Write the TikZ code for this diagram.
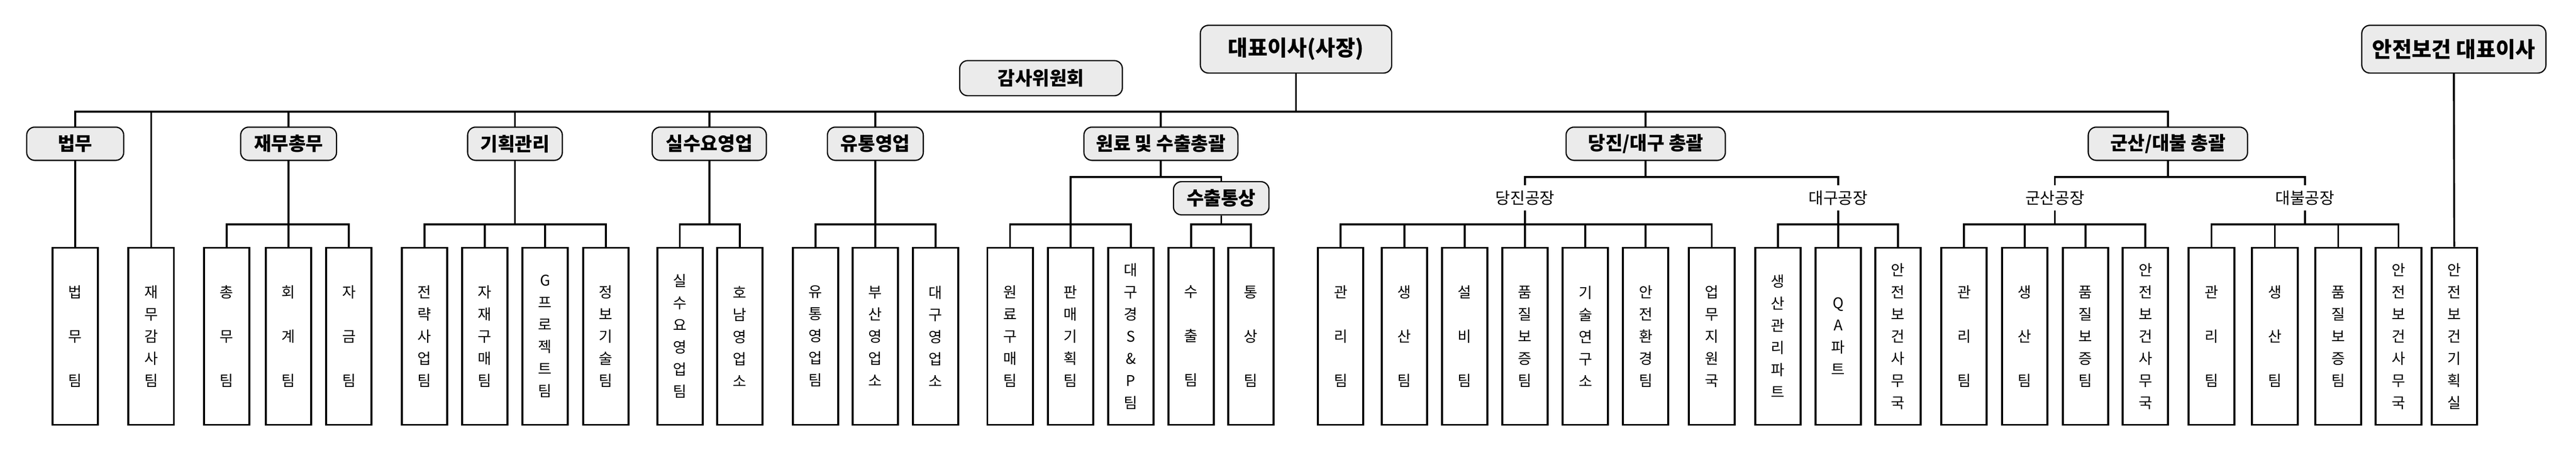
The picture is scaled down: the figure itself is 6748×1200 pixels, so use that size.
\documentclass[tikz,border=0pt]{standalone}
\usepackage{fontspec}
\setmainfont{Noto Sans CJK KR}
\begin{document}
\begin{tikzpicture}[x=0.01cm,y=-0.01cm,
  hdr/.style={draw=black,line width=0.9pt,fill=black!8,rounded corners=6pt,minimum height=0.87cm,inner sep=0pt,font=\fontsize{14}{16}\bfseries\selectfont},
  top/.style={hdr,minimum height=1.25cm,font=\fontsize{16}{18}\bfseries\selectfont},
  team/.style={draw=black,line width=1.5pt,fill=white,minimum width=1.19cm,minimum height=4.64cm,inner sep=0pt,align=center,font=\fontsize{11}{16.5}\selectfont},
  team3/.style={team,font=\fontsize{11}{33}\selectfont},
  lab/.style={minimum height=0.65cm,inner sep=0pt,font=\fontsize{12}{14}\selectfont},
  ln/.style={line width=1.4pt}]
\useasboundingbox (0,0) rectangle (6748,1200);
\coordinate (yM) at (0,293);
\coordinate (yS) at (0,464);
\coordinate (yT) at (0,588);

% top level
\node[top,minimum width=5.01cm] (ceo) at (3395,129) {대표이사(사장)};
\node[hdr,minimum width=4.26cm,minimum height=0.92cm] (audit) at (2727,205) {감사위원회};
\node[top,minimum width=4.82cm] (safe) at (6428,129) {안전보건 대표이사};

% division headers
\node[hdr,minimum width=2.54cm] (h1) at (197,377) {법무};
\node[hdr,minimum width=2.51cm] (h2) at (756,377) {재무총무};
\node[hdr,minimum width=2.48cm] (h3) at (1349,377) {기획관리};
\node[hdr,minimum width=2.99cm] (h4) at (1858,377) {실수요영업};
\node[hdr,minimum width=2.51cm] (h5) at (2293,377) {유통영업};
\node[hdr,minimum width=4.03cm] (h6) at (3041,377) {원료 및 수출총괄};
\node[hdr,minimum width=2.50cm] (h7) at (3199,520) {수출통상};
\node[hdr,minimum width=4.17cm] (h8) at (4311,377) {당진/대구 총괄};
\node[hdr,minimum width=4.17cm] (h9) at (5679,377) {군산/대불 총괄};

% factory labels
\node[lab] (l1) at (3995,519) {당진공장};
\node[lab] (l2) at (4815,519) {대구공장};
\node[lab] (l3) at (5383,519) {군산공장};
\node[lab] (l4) at (6038,519) {대불공장};

% teams
\node[team3] (a1) at (197,882) {법\\무\\팀};
\node[team] (a2) at (396,882) {재\\무\\감\\사\\팀};
\node[team3] (b1) at (594,882) {총\\무\\팀};
\node[team3] (b2) at (756,882) {회\\계\\팀};
\node[team3] (b3) at (914,882) {자\\금\\팀};
\node[team] (c1) at (1112,882) {전\\략\\사\\업\\팀};
\node[team] (c2) at (1270,882) {자\\재\\구\\매\\팀};
\node[team] (c3) at (1428,882) {G\\프\\로\\젝\\트\\팀};
\node[team] (c4) at (1587,882) {정\\보\\기\\술\\팀};
\node[team] (d1) at (1781,882) {실\\수\\요\\영\\업\\팀};
\node[team] (d2) at (1938,882) {호\\남\\영\\업\\소};
\node[team] (e1) at (2136,882) {유\\통\\영\\업\\팀};
\node[team] (e2) at (2293,882) {부\\산\\영\\업\\소};
\node[team] (e3) at (2451,882) {대\\구\\영\\업\\소};
\node[team] (f1) at (2646,882) {원\\료\\구\\매\\팀};
\node[team] (f2) at (2804,882) {판\\매\\기\\획\\팀};
\node[team] (f3) at (2962,882) {대\\구\\경\\S\\\&\\P\\팀};
\node[team3] (g1) at (3120,882) {수\\출\\팀};
\node[team3] (g2) at (3277,882) {통\\상\\팀};
\node[team3] (i1) at (3512,882) {관\\리\\팀};
\node[team3] (i2) at (3679,882) {생\\산\\팀};
\node[team3] (i3) at (3837,882) {설\\비\\팀};
\node[team] (i4) at (3995,882) {품\\질\\보\\증\\팀};
\node[team] (i5) at (4153,882) {기\\술\\연\\구\\소};
\node[team] (i6) at (4311,882) {안\\전\\환\\경\\팀};
\node[team] (i7) at (4484,882) {업\\무\\지\\원\\국};
\node[team] (j1) at (4657,882) {생\\산\\관\\리\\파\\트};
\node[team] (j2) at (4815,882) {Q\\A\\파\\트};
\node[team] (j3) at (4972,882) {안\\전\\보\\건\\사\\무\\국};
\node[team3] (k1) at (5145,882) {관\\리\\팀};
\node[team3] (k2) at (5304,882) {생\\산\\팀};
\node[team] (k3) at (5463,882) {품\\질\\보\\증\\팀};
\node[team] (k4) at (5620,882) {안\\전\\보\\건\\사\\무\\국};
\node[team3] (m1) at (5793,882) {관\\리\\팀};
\node[team3] (m2) at (5959,882) {생\\산\\팀};
\node[team] (m3) at (6125,882) {품\\질\\보\\증\\팀};
\node[team] (m4) at (6283,882) {안\\전\\보\\건\\사\\무\\국};
\node[team] (s1) at (6429,882) {안\\전\\보\\건\\기\\획\\실};

\begin{scope}[ln]
% main bus
\draw (h1.north) -- (h1.north|-yM) -- (h9.north|-yM) -- (h9.north);
\foreach \n in {h2,h3,h4,h5,h6,h8} \draw (\n.north) -- (\n.north|-yM);
\draw (a2.north) -- (a2.north|-yM);
\draw (ceo.south) -- (ceo.south|-yM);
\draw (safe.south) -- (s1.north);
% 법무
\draw (h1.south) -- (a1.north);
% 재무총무
\draw (h2.south) -- (b2.north);
\draw (b1.north) -- (b1.north|-yT) -- (b3.north|-yT) -- (b3.north);
% 기획관리
\draw (h3.south) -- (h3.south|-yT);
\draw (c1.north) -- (c1.north|-yT) -- (c4.north|-yT) -- (c4.north);
\foreach \n in {c2,c3} \draw (\n.north) -- (\n.north|-yT);
% 실수요
\draw (h4.south) -- (h4.south|-yT);
\draw (d1.north) -- (d1.north|-yT) -- (d2.north|-yT) -- (d2.north);
% 유통
\draw (h5.south) -- (e2.north);
\draw (e1.north) -- (e1.north|-yT) -- (e3.north|-yT) -- (e3.north);
% 원료 및 수출
\draw (h6.south) -- (h6.south|-yS);
\draw (f2.north) -- (f2.north|-yS) -- (h7.north|-yS) -- (h7.north);
\draw (f1.north) -- (f1.north|-yT) -- (f3.north|-yT) -- (f3.north);
\draw (h7.south) -- (h7.south|-yT);
\draw (g1.north) -- (g1.north|-yT) -- (g2.north|-yT) -- (g2.north);
% 당진/대구
\draw (h8.south) -- (h8.south|-yS);
\draw (l1.north) -- (l1.north|-yS) -- (l2.north|-yS) -- (l2.north);
\draw (l1.south) -- (i4.north);
\draw (i1.north) -- (i1.north|-yT) -- (i7.north|-yT) -- (i7.north);
\foreach \n in {i2,i3,i5,i6} \draw (\n.north) -- (\n.north|-yT);
\draw (l2.south) -- (j2.north);
\draw (j1.north) -- (j1.north|-yT) -- (j3.north|-yT) -- (j3.north);
% 군산/대불
\draw (h9.south) -- (h9.south|-yS);
\draw (l3.north) -- (l3.north|-yS) -- (l4.north|-yS) -- (l4.north);
\draw (l3.south) -- (l3.south|-yT);
\draw (k1.north) -- (k1.north|-yT) -- (k4.north|-yT) -- (k4.north);
\foreach \n in {k2,k3} \draw (\n.north) -- (\n.north|-yT);
\draw (l4.south) -- (l4.south|-yT);
\draw (m1.north) -- (m1.north|-yT) -- (m4.north|-yT) -- (m4.north);
\foreach \n in {m2,m3} \draw (\n.north) -- (\n.north|-yT);
\end{scope}
\end{tikzpicture}
\end{document}
